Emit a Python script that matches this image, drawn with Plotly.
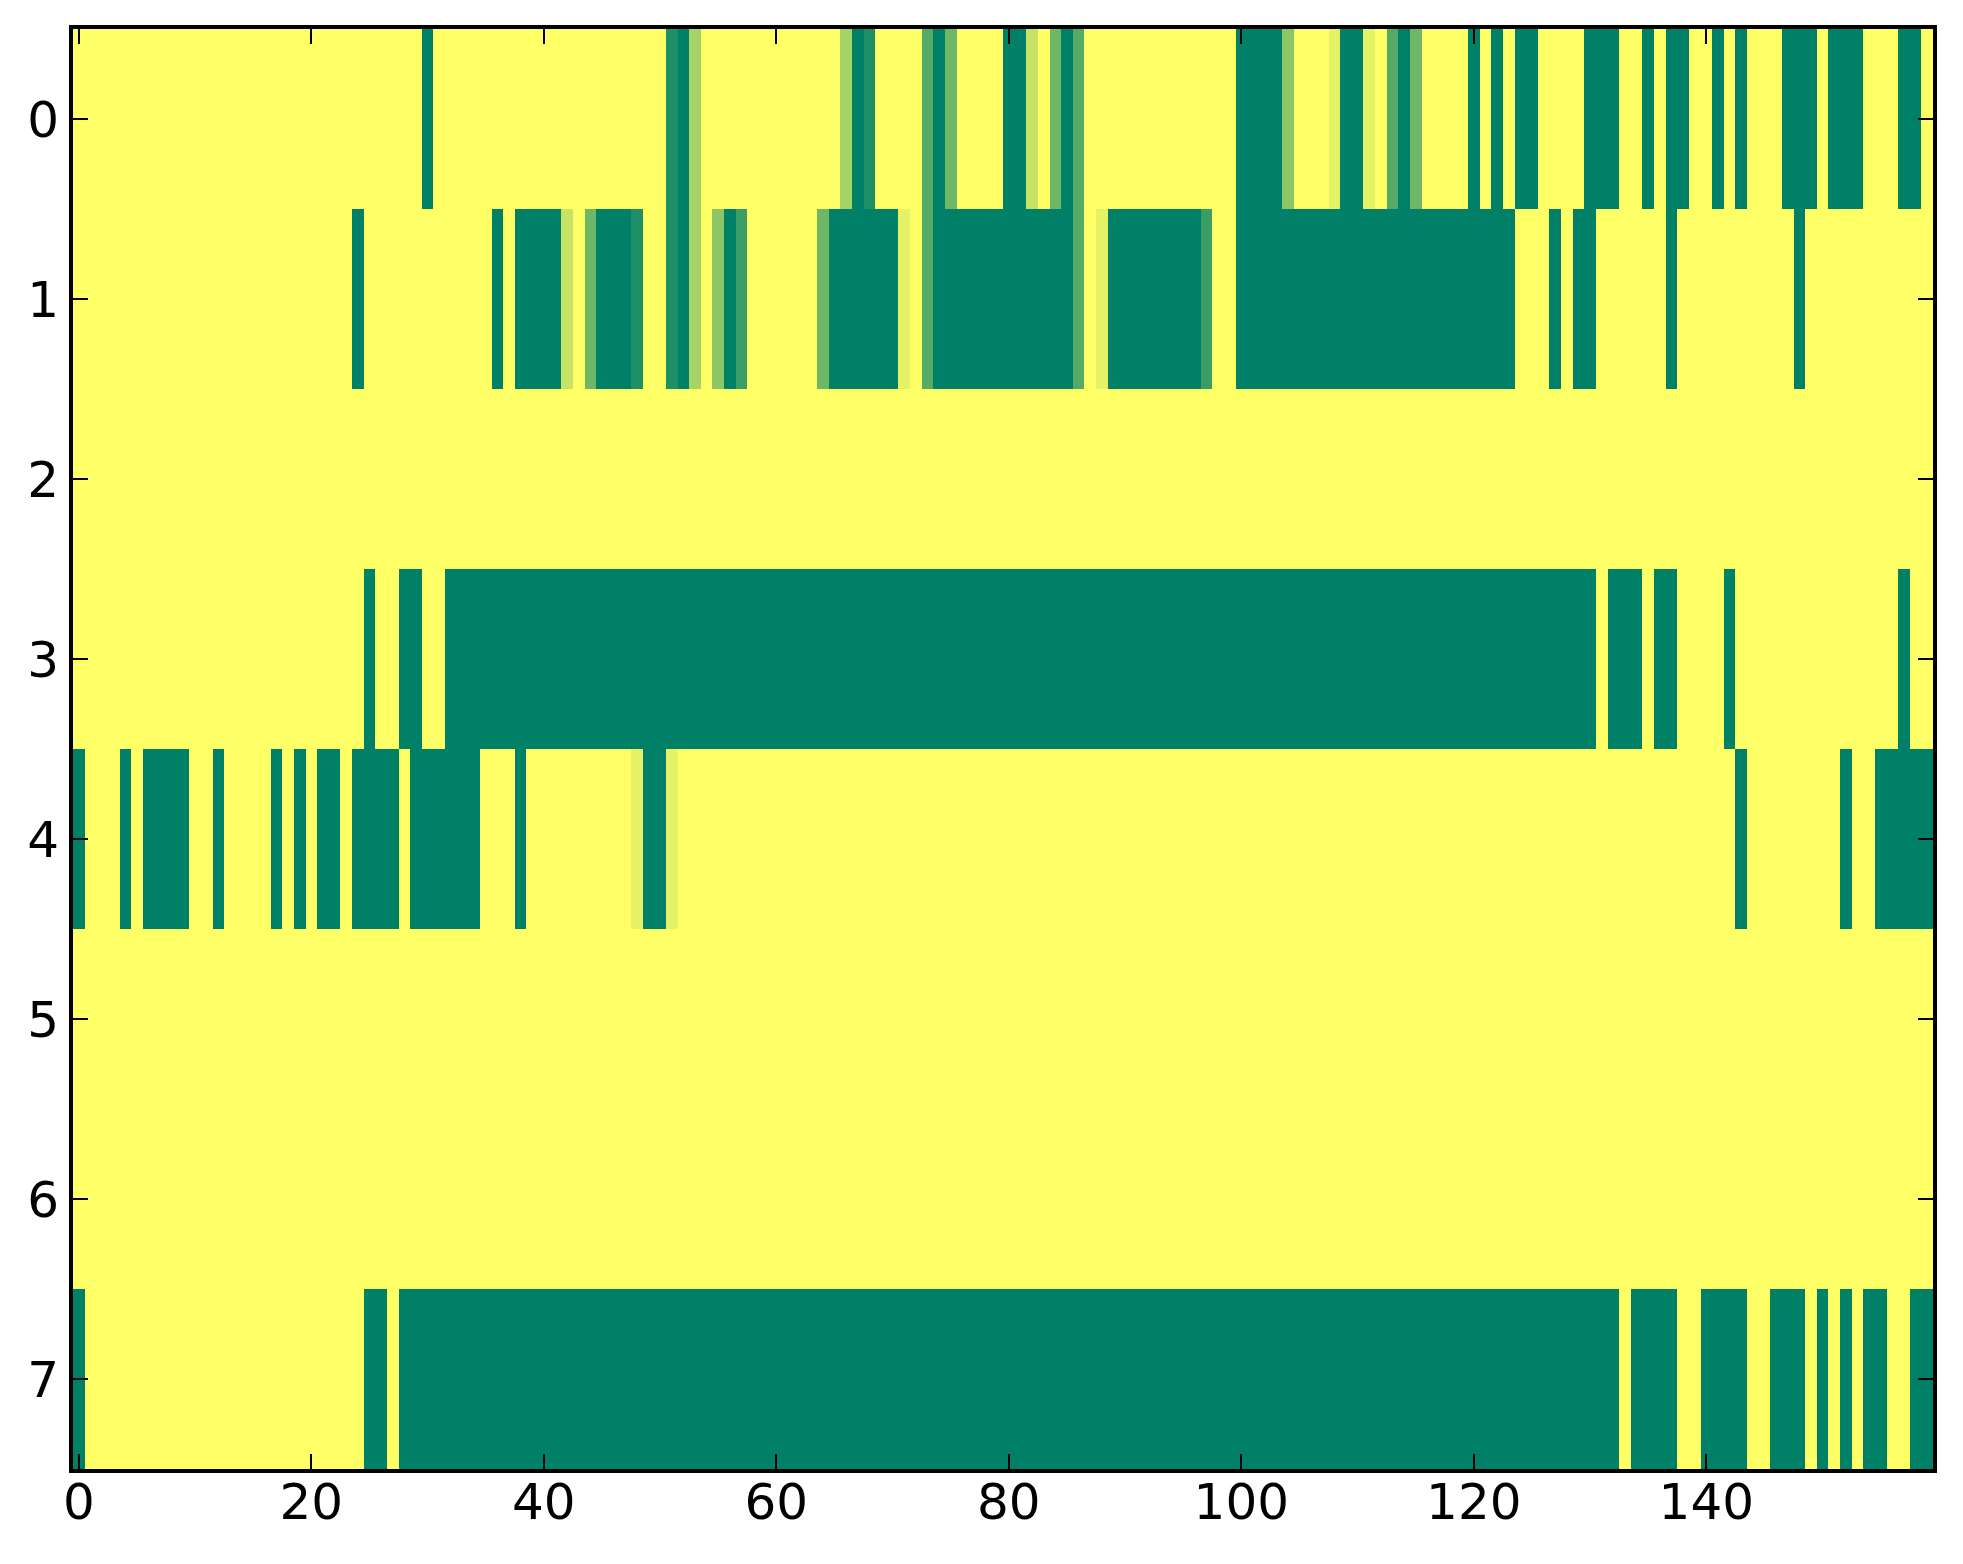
import plotly.graph_objects as go

# each row as (value, run length) pairs, left to right
row0 = [(1, 30), (0, 1), (1, 20), (0.12, 1), (0, 1), (0.65, 1), (1, 12), (0.65, 1), (0, 1), (0.12, 1),
        (1, 4), (0.33, 1), (0, 1), (0.43, 1), (1, 4), (0, 2), (0.78, 1), (1, 1), (0.43, 1), (0, 1),
        (0.33, 1), (1, 13), (0, 4), (0.55, 1), (1, 3), (0.9, 1), (0, 2), (0.9, 1), (1, 1), (0.33, 1),
        (0, 1), (0.43, 1), (1, 4), (0, 1), (1, 1), (0, 1), (1, 1), (0, 2), (1, 4), (0, 3), (1, 2),
        (0, 1), (1, 1), (0, 2), (1, 2), (0, 1), (1, 1), (0, 1), (1, 3), (0, 3), (1, 1), (0, 3),
        (1, 3), (0, 2), (1, 1)]
row1 = [(1, 24), (0, 1), (1, 11), (0, 1), (1, 1), (0, 4), (0.78, 1), (1, 1), (0.43, 1), (0, 3),
        (0.12, 1), (1, 2), (0.12, 1), (0, 1), (0.65, 1), (1, 1), (0.55, 1), (0, 1), (0.23, 1), (1, 6),
        (0.43, 1), (0, 6), (0.9, 1), (1, 1), (0.33, 1), (0, 12), (0.33, 1), (1, 1), (0.9, 1), (0, 8),
        (0.23, 1), (1, 2), (0, 24), (1, 3), (0, 1), (1, 1), (0, 2), (1, 6), (0, 1), (1, 10), (0, 1),
        (1, 11)]
row2 = [(1, 160)]
row3 = [(1, 25), (0, 1), (1, 2), (0, 2), (1, 2), (0, 99), (1, 1), (0, 3), (1, 1), (0, 2), (1, 4),
        (0, 1), (1, 14), (0, 1), (1, 2)]
row4 = [(0, 1), (1, 3), (0, 1), (1, 1), (0, 4), (1, 2), (0, 1), (1, 4), (0, 1), (1, 1), (0, 1),
        (1, 1), (0, 2), (1, 1), (0, 4), (1, 1), (0, 6), (1, 3), (0, 1), (1, 9), (0.9, 1), (0, 2),
        (0.9, 1), (1, 91), (0, 1), (1, 8), (0, 1), (1, 2), (0, 5)]
row5 = [(1, 160)]
row6 = [(1, 160)]
row7 = [(0, 1), (1, 24), (0, 2), (1, 1), (0, 105), (1, 1), (0, 4), (1, 2), (0, 4), (1, 2), (0, 3),
        (1, 1), (0, 1), (1, 1), (0, 1), (1, 1), (0, 2), (1, 2), (0, 2)]

rows = [row0, row1, row2, row3, row4, row5, row6, row7]
xtick_vals = [0, 20, 40, 60, 80, 100, 120, 140]
ytick_vals = [0, 1, 2, 3, 4, 5, 6, 7]


def expand(runs):
    out = []
    for v, n in runs:
        out += [v] * n
    return out


z = [expand(r) for r in rows]

# matplotlib "summer": (v, 0.5+0.5v, 0.4)
summer = [[0, 'rgb(0,128,102)'], [1, 'rgb(255,255,102)']]

fig = go.Figure(go.Heatmap(
    z=z,
    colorscale=summer,
    zmin=0, zmax=1,
    showscale=False,
    zsmooth=False,
    hoverinfo='skip'
))

axis_style = dict(
    showline=True, linewidth=4, linecolor='black', mirror='ticks',
    ticks='inside', ticklen=15, tickwidth=2, tickcolor='black',
    showgrid=False, zeroline=False,
    tickfont=dict(family='DejaVu Sans', size=50, color='black'),
)

fig.update_xaxes(range=[-0.5, 159.5], tickvals=xtick_vals, ticklabelstandoff=-14, **axis_style)
fig.update_yaxes(range=[7.5, -0.5], tickvals=ytick_vals, ticklabelstandoff=0, **axis_style)

# page body adds an 8px offset, so the figure is 8px smaller and margins shifted
fig.update_layout(
    width=1955, height=1556,
    margin=dict(l=65, r=30, t=21, b=95),
    paper_bgcolor='white', plot_bgcolor='white',
    font=dict(family='DejaVu Sans', color='black'),
)

fig.write_html("out.html")
